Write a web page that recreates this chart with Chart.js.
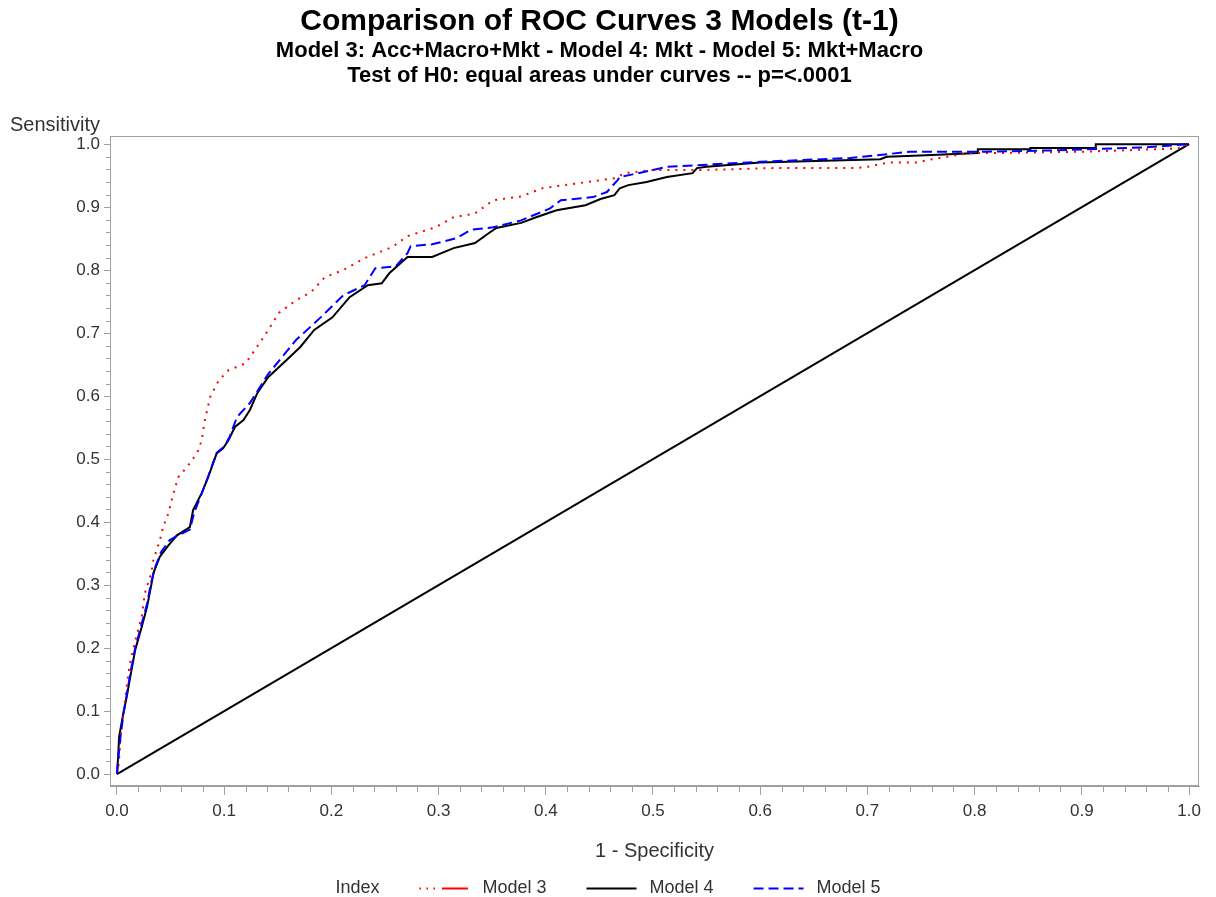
<!DOCTYPE html>
<html>
<head>
<meta charset="utf-8">
<title>Comparison of ROC Curves</title>
<script src="https://cdn.jsdelivr.net/npm/chart.js@4.4.1/dist/chart.umd.min.js"></script>
<style>
  html, body { margin: 0; padding: 0; background: #fff; }
  canvas { display: block; }
</style>
</head>
<body>
<canvas id="roc" width="1216" height="897"></canvas>
<script>
// values (1 - specificity, sensitivity)
var fpr3 = [0, 0.0015, 0.004, 0.009, 0.012, 0.018, 0.023, 0.026, 0.032, 0.034, 0.040, 0.043, 0.048, 0.051, 0.057, 0.063, 0.070, 0.076, 0.079, 0.082, 0.087, 0.095, 0.104, 0.120, 0.137, 0.151, 0.167, 0.181, 0.194, 0.211, 0.231, 0.257, 0.271, 0.297, 0.314, 0.334, 0.351, 0.377, 0.397, 0.417, 0.444, 0.464, 0.474, 0.500, 0.547, 0.612, 0.668, 0.690, 0.700, 0.720, 0.746, 0.760, 0.796, 0.827, 0.900, 0.989, 1.0];
var tpr3 = [0, 0.014, 0.070, 0.138, 0.176, 0.218, 0.249, 0.287, 0.319, 0.340, 0.371, 0.392, 0.414, 0.435, 0.471, 0.483, 0.498, 0.514, 0.530, 0.562, 0.599, 0.625, 0.641, 0.652, 0.694, 0.732, 0.752, 0.765, 0.789, 0.800, 0.819, 0.837, 0.854, 0.868, 0.884, 0.890, 0.911, 0.917, 0.930, 0.935, 0.941, 0.946, 0.954, 0.959, 0.959, 0.962, 0.962, 0.962, 0.964, 0.971, 0.971, 0.976, 0.986, 0.986, 0.988, 0.993, 1.0];

var fpr4 = [0, 0.001, 0.002, 0.006, 0.009, 0.013, 0.017, 0.023, 0.028, 0.032, 0.034, 0.040, 0.048, 0.056, 0.068, 0.071, 0.079, 0.085, 0.093, 0.099, 0.104, 0.110, 0.118, 0.124, 0.131, 0.141, 0.158, 0.171, 0.184, 0.201, 0.217, 0.234, 0.247, 0.254, 0.271, 0.294, 0.314, 0.334, 0.347, 0.354, 0.377, 0.391, 0.410, 0.437, 0.451, 0.464, 0.469, 0.477, 0.494, 0.513, 0.537, 0.541, 0.550, 0.600, 0.712, 0.718, 0.749, 0.803, 0.803, 0.852, 0.852, 0.913, 0.913, 1.0];
var tpr4 = [0, 0.025, 0.059, 0.097, 0.122, 0.160, 0.197, 0.233, 0.265, 0.300, 0.319, 0.345, 0.363, 0.379, 0.392, 0.419, 0.446, 0.471, 0.509, 0.517, 0.530, 0.551, 0.562, 0.578, 0.605, 0.630, 0.657, 0.678, 0.705, 0.725, 0.757, 0.776, 0.779, 0.795, 0.821, 0.821, 0.835, 0.843, 0.859, 0.867, 0.875, 0.884, 0.895, 0.903, 0.913, 0.919, 0.930, 0.935, 0.940, 0.948, 0.954, 0.962, 0.964, 0.971, 0.976, 0.980, 0.982, 0.986, 0.992, 0.992, 0.994, 0.994, 1.0, 1.0];

var fpr5 = [0, 0.001, 0.003, 0.006, 0.009, 0.013, 0.017, 0.023, 0.028, 0.032, 0.036, 0.041, 0.049, 0.056, 0.068, 0.072, 0.079, 0.085, 0.093, 0.100, 0.105, 0.112, 0.124, 0.141, 0.167, 0.190, 0.211, 0.231, 0.241, 0.260, 0.271, 0.274, 0.294, 0.317, 0.330, 0.351, 0.377, 0.404, 0.414, 0.444, 0.457, 0.467, 0.469, 0.481, 0.500, 0.513, 0.600, 0.684, 0.740, 0.810, 0.870, 0.960, 1.0];
var tpr5 = [0, 0.020, 0.055, 0.095, 0.125, 0.165, 0.200, 0.238, 0.270, 0.305, 0.330, 0.352, 0.371, 0.378, 0.388, 0.415, 0.445, 0.472, 0.510, 0.520, 0.535, 0.567, 0.589, 0.635, 0.689, 0.725, 0.760, 0.776, 0.803, 0.806, 0.827, 0.838, 0.841, 0.851, 0.864, 0.868, 0.879, 0.898, 0.911, 0.916, 0.924, 0.943, 0.948, 0.952, 0.959, 0.964, 0.972, 0.978, 0.988, 0.988, 0.990, 0.995, 1.0];

var diagX = [0, 1];
var diagY = [0, 1];

var majorTicks = [0, 0.1, 0.2, 0.3, 0.4, 0.5, 0.6, 0.7, 0.8, 0.9, 1.0];
var modelNames = ['Model 3', 'Model 4', 'Model 5'];

var titleText = 'Comparison of ROC Curves 3 Models (t-1)';
var subtitleLines = [
    'Model 3: Acc+Macro+Mkt - Model 4: Mkt - Model 5: Mkt+Macro',
    'Test of H0: equal areas under curves -- p=<.0001'
];

var colors = {
    model3: '#ff0000',
    model4: '#000000',
    model5: '#0000ff',
    axis: '#a0a0a0',
    text: '#333333',
    title: '#000000'
}

var fontFamily = "'Liberation Sans', Arial, Helvetica, sans-serif"

function toPoints(xs, ys) {
    return xs.map(function (x, i) { return {x: x, y: ys[i]}; });
}

function useMajorTicks(scale) {
    scale.ticks = majorTicks.map(function (v) { return {value: v}; });
}

// frame, minor ticks, y title and the legend row
var rocDecor = {
    id: 'rocDecor',
    afterDraw: function (chart) {
        var ctx = chart.ctx;
        var a = chart.chartArea;
        var xs = chart.scales.x, ys = chart.scales.y;
        ctx.save();
        ctx.strokeStyle = colors.axis;
        ctx.lineWidth = 1;
        ctx.strokeRect(Math.round(a.left) + 0.5, Math.round(a.top) + 0.5,
            Math.round(a.right - a.left) - 1, Math.round(a.bottom - a.top) - 1);

        ctx.beginPath();
        for (var i = 0; i < majorTicks.length - 1; i++) {
            for (var k = 1; k < 5; k++) {
                var v = majorTicks[i] + (majorTicks[i + 1] - majorTicks[i]) * k / 5;
                var px = Math.round(xs.getPixelForValue(v)) + 0.5;
                ctx.moveTo(px, a.bottom);
                ctx.lineTo(px, a.bottom + 6);
                var py = Math.round(ys.getPixelForValue(v)) + 0.5;
                ctx.moveTo(a.left, py);
                ctx.lineTo(a.left - 4, py);
            }
        }
        ctx.stroke();

        ctx.fillStyle = colors.text;
        ctx.textBaseline = 'middle';
        ctx.textAlign = 'left';
        ctx.font = '20px ' + fontFamily;
        ctx.fillText('Sensitivity', 10, 125);

        // legend: "Index" then sample line + label for each model
        ctx.font = '18px ' + fontFamily;
        var legendY = 888;
        var sampleW = 50;
        var items = chart.data.datasets.filter(function (d) { return modelNames.indexOf(d.label) >= 0; })
            .sort(function (p, q) { return modelNames.indexOf(p.label) - modelNames.indexOf(q.label); });
        var total = ctx.measureText('Index').width;
        items.forEach(function (d) { total += 40 + sampleW + 13 + ctx.measureText(d.label).width; });
        var x = (chart.width - total) / 2;
        ctx.fillText('Index', x, legendY);
        x += ctx.measureText('Index').width;
        items.forEach(function (d) {
            x += 40;
            ctx.beginPath();
            ctx.strokeStyle = d.borderColor;
            ctx.lineWidth = 2;
            ctx.setLineDash(d.legendDash || d.borderDash || []);
            ctx.moveTo(x, legendY + 0.5);
            ctx.lineTo(x + sampleW, legendY + 0.5);
            ctx.stroke();
            ctx.setLineDash([]);
            x += sampleW + 13;
            ctx.fillStyle = colors.text;
            ctx.fillText(d.label, x, legendY);
            x += ctx.measureText(d.label).width;
        });
        ctx.restore();
    }
};

new Chart(document.getElementById('roc'), {
    type: 'line',
    data: {
        datasets: [
            {
                label: 'Model 5',
                data: toPoints(fpr5, tpr5),
                borderColor: colors.model5,
                borderWidth: 2,
                borderDash: [10, 5]
            },
            {
                label: 'Model 3',
                data: toPoints(fpr3, tpr3),
                borderColor: colors.model3,
                borderWidth: 2,
                borderDash: [2, 6],
                legendDash: [1.5, 5.5, 1.5, 5.5, 1.5, 7, 26, 200]
            },
            {
                label: 'Model 4',
                data: toPoints(fpr4, tpr4),
                borderColor: colors.model4,
                borderWidth: 2
            },
            {
                label: 'diagonal',
                data: toPoints(diagX, diagY),
                borderColor: '#000000',
                borderWidth: 2
            }
        ]
    },
    options: {
        responsive: false,
        animation: false,
        devicePixelRatio: 1,
        layout: {padding: {top: 0, right: 17, bottom: 0, left: 0}},
        elements: {
            point: {radius: 0},
            line: {tension: 0, fill: false}
        },
        plugins: {
            legend: {display: false},
            tooltip: {enabled: false},
            title: {
                display: true,
                text: titleText,
                color: colors.title,
                font: {family: fontFamily, size: 30, weight: 'bold', lineHeight: 1.1},
                padding: {top: 5, bottom: 0}
            },
            subtitle: {
                display: true,
                text: subtitleLines,
                color: colors.title,
                font: {family: fontFamily, size: 22, weight: 'bold', lineHeight: 1.14},
                padding: {top: 0, bottom: 48}
            }
        },
        scales: {
            x: {
                type: 'linear',
                min: -0.0065,
                max: 1.0093,
                afterBuildTicks: useMajorTicks,
                afterFit: function (scale) { scale.height = 111; },
                grid: {drawOnChartArea: false, color: colors.axis, tickLength: 9},
                border: {color: colors.axis},
                ticks: {
                    color: colors.text,
                    font: {family: fontFamily, size: 17},
                    padding: 6,
                    autoSkip: false,
                    maxRotation: 0,
                    callback: function (value) { return value.toFixed(1); }
                },
                title: {
                    display: true,
                    text: '1 - Specificity',
                    color: colors.text,
                    font: {family: fontFamily, size: 20},
                    padding: {top: 0, bottom: 34}
                }
            },
            y: {
                type: 'linear',
                min: -0.019,
                max: 1.0127,
                afterBuildTicks: useMajorTicks,
                afterFit: function (scale) { scale.width = 110; },
                grid: {drawOnChartArea: false, color: colors.axis, tickLength: 6},
                border: {color: colors.axis},
                ticks: {
                    color: colors.text,
                    font: {family: fontFamily, size: 17},
                    padding: 4,
                    autoSkip: false,
                    callback: function (value) { return value.toFixed(1); }
                }
            }
        }
    },
    plugins: [rocDecor]
});
</script>
</body>
</html>
